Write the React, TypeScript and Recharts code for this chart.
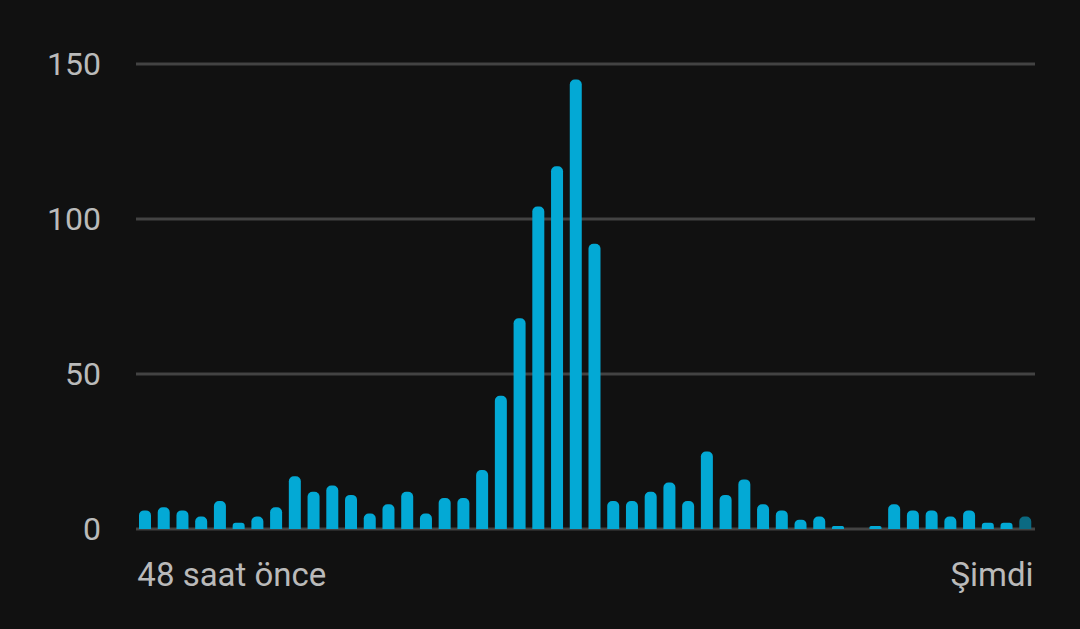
import React from "react";
import { BarChart, Bar, XAxis, YAxis, CartesianGrid, Cell } from "recharts";

const hours: string[] = [
  "48", "47", "46", "45", "44", "43", "42", "41", "40", "39", "38", "37",
  "36", "35", "34", "33", "32", "31", "30", "29", "28", "27", "26", "25",
  "24", "23", "22", "21", "20", "19", "18", "17", "16", "15", "14", "13",
  "12", "11", "10", "9", "8", "7", "6", "5", "4", "3", "2", "1",
];

const counts: number[] = [
  6, 7, 6, 4, 9, 2, 4, 7, 17, 12, 14, 11,
  5, 8, 12, 5, 10, 10, 19, 43, 68, 104, 117, 145,
  92, 9, 9, 12, 15, 9, 25, 11, 16, 8, 6, 3,
  4, 1, 0, 1, 8, 6, 6, 4, 6, 2, 2, 4,
];

const yTicks: number[] = [0, 50, 100, 150];
const xTickLabels: string[] = ["48 saat önce", "Şimdi"];

const data = hours.map((h, i) => ({ hour: h, count: counts[i] }));

const BAR_COLOR = "#03a9d5";
const LAST_BAR_COLOR = "#0b6a82";
const TEXT_COLOR = "#bababa";

const XTick = (props: any) => {
  const { x, y, index } = props;
  const isFirst = index === 0;
  return (
    <text
      x={isFirst ? x - 8 : x + 8}
      y={y}
      dy={57}
      textAnchor={isFirst ? "start" : "end"}
      fill={TEXT_COLOR}
      fontSize={33}
      fontFamily="Roboto"
    >
      {isFirst ? xTickLabels[0] : xTickLabels[1]}
    </text>
  );
};

export default function App() {
  return (
    <div
      style={{
        position: "fixed",
        left: 0,
        top: 0,
        width: 1080,
        height: 629,
        background: "#111111",
      }}
    >
      <BarChart
        width={1080}
        height={629}
        data={data}
        margin={{ top: 64, right: 45, bottom: 40, left: 0 }}
        barCategoryGap={0}
      >
        <CartesianGrid vertical={false} stroke="#434343" strokeWidth={3} />
        <YAxis
          width={136}
          domain={[0, 150]}
          ticks={yTicks}
          axisLine={false}
          tickLine={false}
          tickSize={0}
          tickMargin={35}
          tick={{ fill: TEXT_COLOR, fontSize: 32, fontFamily: "Roboto" }}
        />
        <XAxis
          dataKey="hour"
          height={60}
          axisLine={false}
          tickLine={false}
          tickSize={0}
          tickMargin={0}
          ticks={[hours[0], hours[hours.length - 1]]}
          interval={0}
          tick={<XTick />}
        />
        <Bar
          dataKey="count"
          barSize={12}
          radius={[5, 5, 0, 0]}
          isAnimationActive={false}
        >
          {data.map((d, i) => (
            <Cell
              key={d.hour}
              fill={i === data.length - 1 ? LAST_BAR_COLOR : BAR_COLOR}
            />
          ))}
        </Bar>
      </BarChart>
    </div>
  );
}
